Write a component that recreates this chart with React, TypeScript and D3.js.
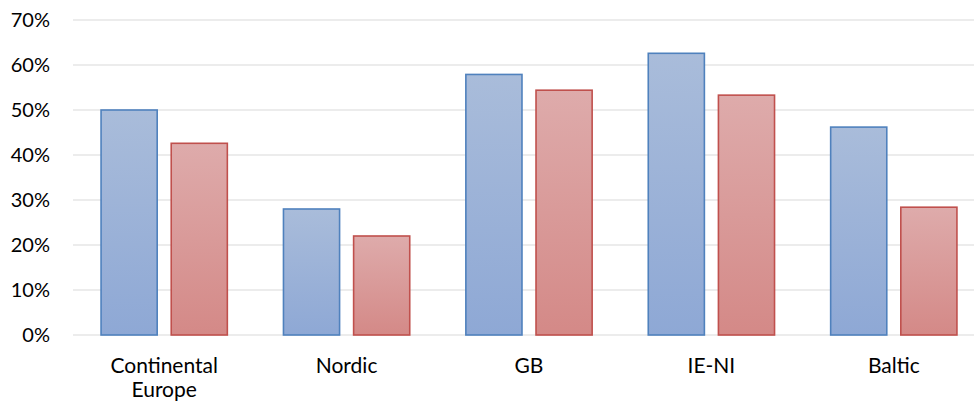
import React from "react";
import * as d3 from "d3";

const categories = [["Continental", "Europe"], ["Nordic"], ["GB"], ["IE-NI"], ["Baltic"]];
const seriesA = [0.50, 0.28, 0.579, 0.626, 0.462];
const seriesB = [0.426, 0.22, 0.544, 0.533, 0.284];
const yTicks = [0, 0.1, 0.2, 0.3, 0.4, 0.5, 0.6, 0.7];

const W = 974;
const H = 407;
const left = 73;
const right = 985;
const top = 20;
const bottom = 335;
const font = "Lato, 'Open Sans', sans-serif";

export default function App() {
  const y = d3.scaleLinear().domain([0, 0.7]).range([bottom, top]);
  const x = d3
    .scaleBand<number>()
    .domain(categories.map((_, i) => i))
    .range([left, right]);
  const bw = x.bandwidth() / 3.25;
  const gap = bw * 0.25;
  const fmt = d3.format(".0%");

  const series = [
    { values: seriesA, grad: "gA", stroke: "#4F81BD", offset: -gap / 2 - bw },
    { values: seriesB, grad: "gB", stroke: "#C0504D", offset: gap / 2 },
  ];

  return (
    <svg
      width={W}
      height={H}
      style={{ position: "absolute", left: 0, top: 0, background: "#fff" }}
    >
      <defs>
        <linearGradient id="gA" x1="0" y1="0" x2="0" y2="1">
          <stop offset="0" stopColor="#A9BCDA" />
          <stop offset="1" stopColor="#8EA8D5" />
        </linearGradient>
        <linearGradient id="gB" x1="0" y1="0" x2="0" y2="1">
          <stop offset="0" stopColor="#DEABAB" />
          <stop offset="1" stopColor="#D48987" />
        </linearGradient>
      </defs>
      {yTicks.map((t) => (
        <g key={t}>
          <line x1={left} x2={W} y1={y(t)} y2={y(t)} stroke="#D9D9D9" strokeWidth={1.2} />
          <text
            x={50}
            y={y(t)}
            dy="0.36em"
            textAnchor="end"
            fontFamily={font}
            fontSize={20}
            fill="#000"
          >
            {fmt(t)}
          </text>
        </g>
      ))}
      {series.map((s) =>
        s.values.map((v, i) => {
          const cx = (x(i) as number) + x.bandwidth() / 2;
          return (
            <rect
              key={s.grad + i}
              x={cx + s.offset}
              y={y(v)}
              width={bw}
              height={y(0) - y(v)}
              fill={`url(#${s.grad})`}
              stroke={s.stroke}
              strokeWidth={1.6}
            />
          );
        })
      )}
      {categories.map((lines, i) => {
        const cx = (x(i) as number) + x.bandwidth() / 2;
        return (
          <text key={i} textAnchor="middle" fontFamily={font} fontSize={21} fill="#000">
            {lines.map((l, j) => (
              <tspan key={j} x={cx} y={373 + j * 24}>
                {l}
              </tspan>
            ))}
          </text>
        );
      })}
    </svg>
  );
}
